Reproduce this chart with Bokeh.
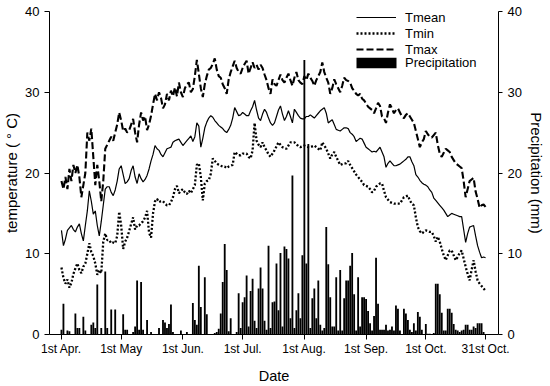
from bokeh.plotting import figure
from bokeh.models import Range1d, LinearAxis, FixedTicker, Legend, LegendItem
from bokeh.embed import file_html
from bokeh.resources import INLINE

# ---- data (day 0 = 1st Apr.) ----
tick_days = [0, 30, 61, 91, 122, 153, 183, 213]
tick_labels = ["1st Apr.", "1st May", "1st Jun.", "1st Jul.", "1st Aug.",
               "1st Sep.", "1st Oct.", "31st Oct."]

tmax = [19, 18, 19.5, 18, 20.5, 19, 21, 20, 21, 19.5,
        17, 18.5, 20, 25, 24, 25.5, 22, 18.5, 21, 19,
        16.5, 19, 23, 23.5, 24, 24.5, 24, 25, 26, 27.5,
        26.5, 25.2, 25.5, 25, 25.3, 26, 26.7, 25, 23.8, 26,
        27.5, 26.5, 27, 25.3, 26, 27.1, 28.5, 29.8, 29, 30,
        29.3, 28, 28.5, 29.8, 29, 30.2, 29.5, 30.6, 29.5, 31.2,
        30, 29.4, 30.5, 31, 31.2, 30, 30.4, 32, 34, 32.3,
        30.5, 29.4, 31, 32, 32.8, 33, 33.5, 34.2, 32.8, 32,
        31.8, 31, 30.5, 29.8, 31.6, 32.5, 33.2, 33.9, 33, 32.5,
        32.3, 33, 33.5, 33.9, 32.3, 33, 33.7, 33, 33.4, 32.8,
        33.4, 33, 32.2, 31.5, 30.5, 29.8, 31.6, 31, 30.8, 31.5,
        32.2, 31.5, 31.2, 31.8, 32.3, 31.5, 30.8, 31.8, 32.5, 31.5,
        31.2, 31, 32, 31.5, 32.3, 31.8, 31.4, 30.8, 31.5, 32,
        32.5, 33.7, 32.5, 31.8, 31.2, 29.8, 30.5, 31.6, 31, 30.5,
        30, 30.8, 31.8, 31.5, 31.4, 31.2, 30.5, 30.2, 29.8, 29.6,
        29.8, 29.2, 29, 28.6, 28.2, 28, 27.8, 27.4, 28, 28.7,
        28.3, 27, 26.8, 26.2, 27.5, 28.5, 28, 27.4, 27.8, 28,
        27.5, 27, 26.8, 27.2, 27.4, 27, 26.6, 26.2, 25.2, 24.2,
        23.2, 23.8, 24.2, 25.2, 24.8, 24.5, 24.4, 24.7, 25, 23.5,
        22.4, 22, 22.5, 23, 22.8, 22.6, 22, 21.6, 21.2, 21,
        20.8, 20.6, 19, 17, 18, 19, 19.2, 19.4, 17.7, 16.8,
        15.7, 16, 16.1, 15.8]

tmean = [12.9, 11, 11.8, 12.9, 13.2, 13.5, 13, 12.7, 13.3, 13.7,
         12.5, 11.6, 13.5, 15.3, 17.8, 16.5, 14.9, 15.3, 13.5, 12.2,
         14, 16, 18, 18.3, 18.3, 17.6, 17.2, 17.9, 19, 20.5,
         20.9, 19.8, 18.7, 18.9, 19.3, 20.3, 20.9, 19.5, 18.7, 19.9,
         19.3, 18.9, 19.2, 19.7, 20.5, 21.5, 22.3, 23.4, 23, 22.8,
         22.3, 22, 22.5, 23, 23.1, 23.2, 23.8, 24, 24.1, 24.2,
         23.8, 23.4, 23.7, 24, 24.3, 24.6, 23.9, 24.5, 26.2, 25.8,
         23.2, 24.3, 25.6, 26.3, 26.8, 27.1, 26.9, 26.5, 26.2, 25.9,
         25.7, 25.5, 25.2, 25, 25.4, 25.9, 26.8, 28.1, 27.6, 27.1,
         27.2, 27.5, 27.3, 27.1, 27.1, 27.7, 28.2, 29, 27.8, 26.8,
         26.5, 27.3, 27.9, 27.5, 26.8, 26.2, 25.9, 26.2, 27, 27.8,
         28.3, 27.3, 26.5, 27, 27.7, 27, 26.2, 27.9, 27.5, 27.1,
         26.8, 26.7, 26.7, 27, 27, 27.2, 27, 26.8, 27.1, 27.4,
         27.7, 27.9, 28.1, 27.4, 26.2, 26.4, 26.6, 26, 25.4, 25.3,
         25.2, 25.4, 25.6, 25.6, 25.5, 25, 24.8, 24.5, 23.9, 24.1,
         24.3, 24.2, 23.7, 23.2, 23, 22.8, 22.6, 22.7, 22.6, 22.9,
         23.2, 22.6, 22, 20.7, 21.2, 21.5, 21.2, 20.9, 20.9, 21,
         21.1, 21.3, 21.5, 21.7, 22, 22, 21.4, 20.9, 19.8, 19.5,
         19.1, 18.8, 18.6, 18.5, 18.3, 17.9, 17.6, 16.9, 16.6, 16.3,
         16, 15.7, 15.4, 15, 14.6, 14.8, 15, 14.9, 14.8, 14.7,
         14.6, 14.6, 13, 11.4, 12.5, 13.3, 13.4, 13.5, 12.2, 11,
         10.2, 9.5, 9.6, 9.5]

tmin = [8.3, 7, 6.3, 6.8, 5.8, 6.4, 7.5, 8.2, 8.8, 8,
        7.6, 8.4, 8.8, 10, 11.3, 10.2, 9.7, 8.8, 7.4, 8,
        7.6, 11.5, 12.5, 11.7, 11.7, 11.3, 11.4, 11.3, 12.2, 15.2,
        13.5, 10.6, 11.5, 12, 12.8, 13.7, 14.5, 13, 13.5, 13.5,
        13.8, 14, 14.5, 15.3, 12.6, 12, 15, 16.5, 16.8, 16.4,
        16.5, 16.5, 16.2, 16, 16, 16.4, 17, 18, 18.4, 17.5,
        17.8, 18, 17.6, 17.4, 17.8, 17.5, 18, 18.5, 21, 21.2,
        19.5, 16.6, 18.7, 19, 19.1, 19.9, 21.8, 21.5, 21.2, 21,
        20.9, 20.8, 20.8, 20.6, 20.8, 20.9, 21, 22.6, 22.4, 22.2,
        22.2, 22.4, 22.4, 22.4, 22, 21.8, 22.8, 26.2, 24, 23.5,
        23.2, 23.8, 23.2, 22.8, 22.3, 22, 22.4, 22.8, 23.3, 23.8,
        23.5, 23.2, 23.1, 23, 23.4, 23.8, 23.8, 23.8, 23.6, 23.3,
        23.2, 23.3, 23.4, 23.3, 23.2, 23.2, 23.3, 23.4, 23.2, 23,
        22.8, 23.8, 23.4, 23, 22.4, 21.8, 22.3, 22.6, 22, 21.5,
        21, 21.1, 21.2, 21.2, 21.5, 21, 20.6, 20.2, 19.8, 19.5,
        19.2, 18.9, 18.5, 18.4, 18.3, 18, 17.6, 17.8, 18.3, 18.5,
        18.7, 18.7, 17.8, 17, 16.7, 16.4, 16.3, 16.2, 16.2, 16.2,
        16.2, 16.6, 17, 17.1, 17.2, 16.6, 16.2, 16, 14.5, 13.3,
        12.8, 12.5, 12.7, 12.9, 12.8, 12.7, 12.7, 12.2, 11.5, 12.1,
        11.5, 10.6, 9.8, 9.2, 9.8, 10.4, 10.4, 9.8, 9.2, 9.6,
        10.1, 10.4, 9.4, 8.4, 7.5, 6.7, 8, 9.2, 7.8, 6.7,
        6.3, 6, 5.7, 5.4]

precip = [0.6, 3.8, 0, 0.5, 0.4, 0, 0, 2.6, 0.8, 0.8,
          0, 2.2, 0.5, 0, 0, 1.2, 1.5, 0.8, 6.2, 0,
          0.8, 0, 7.8, 0.8, 0, 3.1, 0, 3.1, 0, 0,
          0, 2.5, 0.6, 0.6, 0, 0, 0.3, 1.0, 6.7, 0.6,
          6.5, 0.6, 0, 1.8, 0, 0.3, 0, 0, 0, 0.8,
          0, 1.8, 1.5, 0.8, 1.3, 3.7, 0.3, 0, 0, 0,
          0.5, 0, 0, 0.3, 0, 0, 3.9, 1.8, 1.2, 8.5,
          3.4, 0, 7.1, 2.5, 0, 0, 0, 0.2, 0.3, 0.7,
          2.6, 6.5, 11.2, 8.0, 0.4, 2.0, 0, 0, 0.3, 5.1,
          0.8, 4.0, 4.6, 7.3, 1.0, 5.4, 6.9, 1.7, 0.8, 5.7,
          8.3, 5.7, 1.7, 0.6, 11.0, 0.8, 4.0, 4.1, 8.8, 3.0,
          10.1, 1.0, 10.9, 10.6, 9.4, 2.0, 19.7, 0.8, 3.0, 5.1,
          2.0, 9.8, 34.0, 8.8, 23.6, 0.8, 4.5, 5.7, 2.0, 6.7,
          1.2, 0.5, 0.8, 13.3, 8.7, 4.6, 1.0, 1.0, 7.1, 0.5,
          8.0, 0.5, 4.5, 6.7, 6.7, 8.5, 10.1, 5.0, 0.5, 7.1,
          1.0, 4.6, 4.6, 4.4, 2.9, 1.4, 0.5, 2.3, 9.5, 3.8,
          0.6, 0.6, 0.6, 1.2, 0.5, 0.6, 1.0, 0.5, 3.6, 3.2,
          0.5, 0, 3.2, 2.6, 1.8, 0.6, 0.3, 1.4, 0.5, 2.8,
          2.2, 0.6, 0, 1.3, 0.1, 0.1, 0, 0.2, 6.3, 6.3,
          5.0, 2.7, 0.5, 0.5, 3.2, 3.2, 2.7, 1.3, 0.6, 0.5,
          0.3, 0.5, 0.6, 1.2, 1.2, 0.6, 0.6, 1.0, 0.8, 1.4,
          1.4, 1.4, 0.3, 0]

days = list(range(len(tmean)))
FONT = "Liberation Sans"

p = figure(width=550, height=386, output_backend="svg", toolbar_location=None,
           x_range=Range1d(-6, 219.5), y_range=Range1d(0, 40),
           min_border_left=48, min_border_right=52, min_border_top=11,
           min_border_bottom=52,
           styles={"position": "absolute", "top": "0px", "left": "0px"})
p.extra_y_ranges = {"precip": Range1d(0, 40)}
p.grid.visible = False
p.outline_line_color = None
p.background_fill_color = "white"
p.border_fill_color = "white"

bars = p.vbar(x=days, top=precip, bottom=0, width=0.92, y_range_name="precip",
              fill_color="black", line_color=None)
l_mean = p.line(days, tmean, line_color="black", line_width=1.2)
l_min = p.line(days, tmin, line_color="black", line_width=2.3, line_dash="2 2")
l_max = p.line(days, tmax, line_color="black", line_width=2.1, line_dash="7 3")

# axes
xa = p.xaxis[0]
xa.ticker = FixedTicker(ticks=tick_days)
xa.major_label_overrides = {d: t for d, t in zip(tick_days, tick_labels)}
xa.axis_label = "Date"

ya = p.yaxis[0]
ya.ticker = FixedTicker(ticks=[0, 10, 20, 30, 40])
ya.axis_label = "temperature ( \u00b0 C)"

ra = LinearAxis(y_range_name="precip", axis_label="Precipitation (mm)",
                ticker=FixedTicker(ticks=[0, 10, 20, 30, 40]))
p.add_layout(ra, "right")

for ax in (xa, ya, ra):
    ax.axis_line_color = "black"
    ax.axis_line_width = 1
    ax.major_tick_line_color = "black"
    ax.major_tick_in = 0
    ax.major_tick_out = 5
    ax.minor_tick_line_color = None
    ax.major_label_text_font = FONT
    ax.major_label_text_color = "black"
    ax.axis_label_text_font = FONT
    ax.axis_label_text_font_style = "normal"
    ax.axis_label_text_color = "black"

xa.major_label_text_font_size = "12px"
xa.major_label_standoff = 2
xa.axis_label_text_font_size = "14.5px"
xa.axis_label_standoff = 9
ya.major_label_text_font_size = "13px"
ya.major_label_standoff = 5
ya.axis_label_text_font_size = "15px"
ya.axis_label_standoff = 2
ra.major_label_text_font_size = "13px"
ra.major_label_standoff = 5
ra.major_tick_out = 4
ra.axis_label_text_font_size = "15px"
ra.axis_label_standoff = 3

leg1 = Legend(items=[LegendItem(label="Tmean", renderers=[l_mean]),
                     LegendItem(label="Tmin", renderers=[l_min]),
                     LegendItem(label="Tmax", renderers=[l_max])],
              location=(307, 277), glyph_width=40, glyph_height=16,
              label_height=16, spacing=0, padding=0, margin=0,
              label_standoff=9, border_line_color=None,
              background_fill_color=None, label_text_font=FONT,
              label_text_font_size="13px", label_text_color="black")
leg2 = Legend(items=[LegendItem(label="Precipitation", renderers=[bars])],
              location=(302, 264), glyph_width=50, glyph_height=13,
              label_height=13, spacing=0, padding=0, margin=0,
              label_standoff=4, border_line_color=None,
              background_fill_color=None, label_text_font=FONT,
              label_text_font_size="13px", label_text_color="black")
p.add_layout(leg1, "center")
p.add_layout(leg2, "center")

open("out.html", "w").write(file_html(p, INLINE))
